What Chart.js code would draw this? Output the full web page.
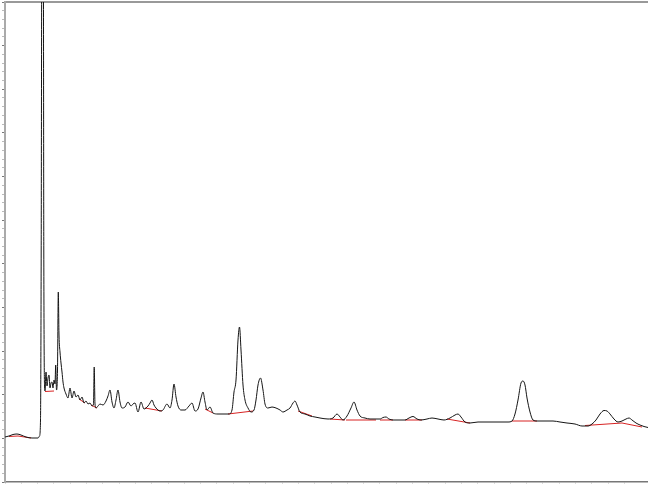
<!DOCTYPE html>
<html>
<head>
<meta charset="utf-8">
<script src="https://cdn.jsdelivr.net/npm/chart.js@4.4.1/dist/chart.umd.min.js"></script>
<style>
  html, body { margin: 0; padding: 0; background: #fff; }
  #chrom { display: block; }
</style>
</head>
<body>
<canvas id="chrom" width="648" height="484"></canvas>
<script>
// signal trace: scan index vs detector response
const traceX = [0, 4, 8, 12, 16, 21, 27, 33, 34.5, 35.5, 36.2, 37, 38.2, 38.8, 39.5, 40, 41, 42, 43, 44, 45, 46, 47, 48, 49, 50, 50.7, 51.5, 52.5, 53.3, 54, 55, 56, 57, 58, 59, 61, 63, 65, 67, 69, 71, 73, 75, 77, 79, 81, 83, 85, 87, 88.5, 89.2, 90, 91, 93, 95, 98, 101, 103, 105, 107, 109, 111, 113, 115, 117, 120, 123, 126, 128, 130, 133, 136, 139, 143, 145, 147, 149, 151, 155, 158, 162, 165, 167, 169, 171, 173, 176, 180, 184, 187, 190, 193, 196, 198, 200, 202, 205, 208, 213, 219, 224, 227, 229, 231, 233, 234.5, 236, 238, 240, 243, 246, 249, 251, 253, 255.5, 258, 260, 263, 267, 271, 275, 278, 282, 285, 288, 290, 292, 295, 300, 305, 310, 315, 323, 328, 332, 335, 338, 342, 346, 349, 352, 355, 360, 365, 371, 375, 378, 381, 384, 388, 395, 400, 404, 408, 412, 416, 422, 427, 433, 439, 445, 450, 453, 456, 460, 465, 473, 485, 495, 503, 507, 510, 513, 516, 518, 520, 522, 525, 528, 532, 540, 548, 555, 562, 570, 577, 583, 587, 591, 595, 599, 602, 605, 609, 613, 617, 621, 624, 627, 631, 635, 639, 643];
const traceV = [45, 46, 47.5, 48, 47, 45, 44, 44, 46, 62, 232, 632, 632, 232, 97, 91, 110, 96, 104, 107, 94, 99, 100, 94, 102, 98, 117, 92, 112, 190, 147, 130, 119, 110, 100, 94, 88, 84, 94, 84, 91, 85, 87, 82, 85, 79, 81, 78, 79, 76, 78, 115, 78, 74, 76, 78, 77, 81, 86, 92, 80, 74, 82, 92, 80, 74, 75, 80, 76, 78, 79, 70, 80, 73, 76, 79, 82, 77, 74, 71, 72, 78, 74, 82, 98, 85, 76, 72, 72, 76, 79, 71, 73, 84, 90, 80, 72, 75, 69, 68, 68, 68, 72, 90, 102, 142, 155, 132, 97, 82, 74, 70, 72, 82, 97, 104, 92, 78, 74, 75, 74, 72, 70, 72, 74, 79, 81, 77, 70, 68, 66, 65, 64, 63, 64, 68, 65, 62, 66, 74, 80, 72, 66, 64, 63, 63, 63, 64.5, 65, 63, 62, 62, 62, 64, 65.5, 63, 62, 63, 64, 63, 62, 64, 67, 68, 65, 60, 59, 60, 60, 60, 60, 61, 68, 82, 99, 101, 97, 84, 70, 62, 61, 61, 61, 60, 59, 58, 56, 56, 58, 62, 68, 71.5, 71, 68, 63, 60, 61, 63, 64, 62, 59, 57, 55.5, 54.5];

// integration baselines (null breaks between peaks)
const baseX = [4, 13, 26, null, 40, 49, null, 74, 80, null, 86, 92, null, 140, 157, null, 200, 208, null, 223, 248, null, 293, 307, null, 325, 340, null, 341, 371, null, 375, 388, null, 400, 417, null, 442, 465, null, 507, 532, null, 580, 617, 637];
const baseV = [45.5, 46, 44, null, 90.5, 91, null, 83, 79, null, 77, 74, null, 74, 71, null, 73, 69, null, 68, 71, null, 71, 66, null, 63, 62, null, 62, 62, null, 62, 62, null, 62, 62, null, 63, 59, null, 61, 61, null, 56.5, 59, 55];

const toPoints = (xs, vs) => xs.map((x, i) => ({ x: x === null ? xs[i - 1] : x, y: vs[i] }));

new Chart(document.getElementById('chrom'), {
    type: 'line',
    data: {
        datasets: [
            {
                data: toPoints(traceX, traceV),
                borderColor: '#151515',
                borderWidth: 1,
                pointRadius: 0,
                cubicInterpolationMode: 'monotone'
            },
            {
                data: toPoints(baseX, baseV),
                borderColor: 'rgb(215, 35, 35)',
                borderWidth: 1,
                pointRadius: 0,
                spanGaps: false
            }
        ]
    },
    options: {
        responsive: false,
        animation: false,
        devicePixelRatio: 1,
        layout: { padding: { left: 2, top: 2, right: 0, bottom: 0 } },
        plugins: { legend: { display: false }, tooltip: { enabled: false } },
        scales: {
            x: {
                type: 'linear',
                min: 0,
                max: 643,
                ticks: { display: false, stepSize: 16.3 },
                grid: { drawOnChartArea: false, tickLength: 2, tickColor: '#ddd' },
                border: { color: '#777', width: 1.5 }
            },
            x2: {
                type: 'linear',
                position: 'top',
                min: 0,
                max: 643,
                ticks: { display: false },
                grid: { display: false, drawTicks: false },
                border: { color: '#999', width: 2 }
            },
            y: {
                min: 0,
                max: 480,
                ticks: { display: false, stepSize: 480 / 55 },
                grid: {
                    drawOnChartArea: false,
                    tickLength: 3,
                    tickColor: c => c.index % 5 === 0 ? '#777' : '#bbb'
                },
                border: { color: '#aaa', width: 2 }
            }
        }
    }
});
</script>
</body>
</html>
